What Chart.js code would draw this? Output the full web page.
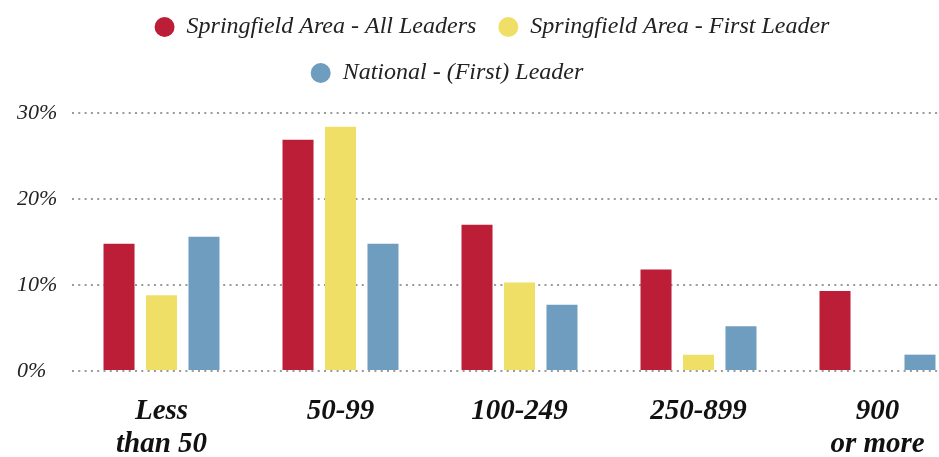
<!DOCTYPE html>
<html>
<head>
<meta charset="utf-8">
<script src="https://cdn.jsdelivr.net/npm/chart.js@4.4.1/dist/chart.umd.min.js"></script>
<style>
  html, body { margin: 0; padding: 0; background: #fff; overflow: hidden; }
  #wrap { position: relative; width: 967px; height: 457px; }
</style>
</head>
<body>
<div id="wrap"><canvas id="c"></canvas></div>
<script>
const categories = [["Less", "than 50"], "50-99", "100-249", "250-899", ["900", "or more"]];
const seriesNames = ["Springfield Area - All Leaders", "Springfield Area - First Leader", "National - (First) Leader"];
const allLeaders = [14.8, 26.9, 17.0, 11.8, 9.3];
const firstLeader = [8.8, 28.4, 10.3, 1.9, 0];
const nationalLeader = [15.6, 14.8, 7.7, 5.2, 1.9];
const yTickValues = [0, 10, 20, 30];
const yTickLabels = ["0%", "10%", "20%", "30%"];
const colors = ["#BC1E38", "#F0DF67", "#6F9DBF"];

const serif = '"Liberation Serif", "Times New Roman", serif';

// layout tweak: extra space under the legend; second legend row sits a bit left of centre
const legendTweak = {
  id: 'legendTweak',
  afterInit(chart) {
    const lg = chart.legend;
    if (!lg) return;
    const origFit = lg.fit;
    lg.fit = function () {
      origFit.call(this);
      this.height += 18;
      if (this.lineWidths && this.lineWidths.length > 1) {
        this.lineWidths[1] += 90;
      }
    };
  }
};

new Chart(document.getElementById('c'), {
  type: 'bar',
  data: {
    labels: categories,
    datasets: [allLeaders, firstLeader, nationalLeader].map((d, i) => ({
      label: seriesNames[i],
      data: d,
      backgroundColor: colors[i],
      borderWidth: 0,
      categoryPercentage: 0.712,
      barPercentage: 0.73
    }))
  },
  plugins: [legendTweak],
  options: {
    responsive: true,
    maintainAspectRatio: false,
    animation: false,
    layout: { padding: { left: 17, right: 0, top: -7, bottom: 0 } },
    plugins: {
      tooltip: { enabled: false },
      legend: {
        position: 'top',
        labels: {
          usePointStyle: true,
          pointStyle: 'circle',
          pointStyleWidth: 20,
          boxWidth: 20,
          boxHeight: 14,
          padding: 22,
          color: '#222',
          font: { family: serif, size: 24, style: 'italic' }
        }
      }
    },
    scales: {
      x: {
        afterFit: (axis) => { axis.height = 86; },
        grid: { display: false, drawTicks: false },
        border: { display: false },
        ticks: {
          padding: 24,
          color: '#111',
          maxRotation: 0,
          autoSkip: false,
          font: { family: serif, size: 29, style: 'italic', weight: 'bold', lineHeight: 1.14 }
        }
      },
      y: {
        min: 0,
        max: 30,
        afterFit: (axis) => { axis.width = 55; },
        afterBuildTicks: (axis) => { axis.ticks = yTickValues.map(v => ({ value: v })); },
        grid: {
          color: '#9a9a9a',
          lineWidth: 2,
          drawTicks: false
        },
        border: { display: false, dash: [2, 4.3] },
        ticks: {
          crossAlign: 'far',
          padding: 0,
          color: '#222',
          font: { family: serif, size: 22, style: 'italic' },
          callback: (v) => yTickLabels[yTickValues.indexOf(v)]
        }
      }
    }
  }
});
</script>
</body>
</html>
